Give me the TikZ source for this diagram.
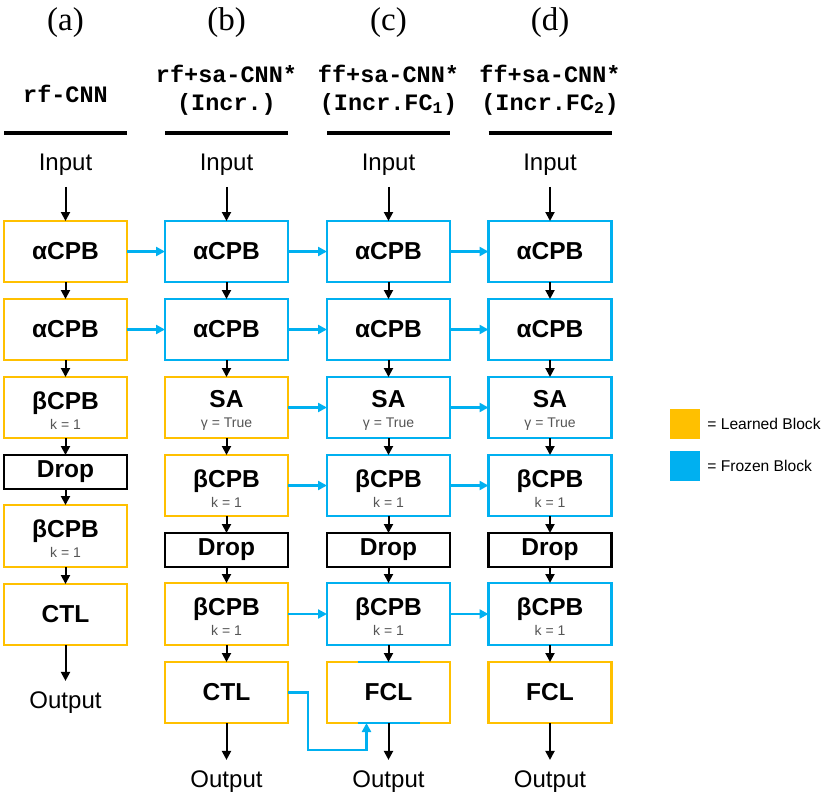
\documentclass[tikz,border=0pt]{standalone}
\usepackage{fontspec}
\setmainfont{Liberation Sans}
\newfontfamily\headserif{Liberation Serif}
\newfontfamily\headmono{Liberation Mono}
\usetikzlibrary{arrows.meta, positioning}
\definecolor{learnorange}{HTML}{FFC000}
\definecolor{frozenblue}{HTML}{00B0F0}
\definecolor{subgray}{HTML}{555555}
\newcommand{\blocktxt}[2]{\rule{0pt}{23pt}#1\\{\fontsize{14}{20}\selectfont\mdseries\color{subgray}#2}}

\begin{document}
\begin{tikzpicture}[x=1pt, y=-1pt,
	blockbox/.style={minimum width=123pt, line width=2.4pt, fill=white, inner sep=0pt, outer sep=0pt, align=center, font=\bfseries\fontsize{24.5}{20}\selectfont},
	learned/.style={blockbox, draw=learnorange, minimum height=61pt},
	frozen/.style={blockbox, draw=frozenblue, minimum height=61pt},
	dropbox/.style={blockbox, draw=black, minimum height=34pt},
	io/.style={font=\fontsize{24}{24}\selectfont, inner sep=11pt},
	headcode/.style={font=\headmono\bfseries\fontsize{23.5}{28}\selectfont, align=center},
	flow/.style={-{Triangle[length=9pt,width=9pt]}, line width=2pt},
	frozenflow/.style={flow, frozenblue, line width=2.4pt},
	keytext/.style={inner sep=2pt, font=\fontsize{15.6}{16}\selectfont}]
	\useasboundingbox (0,0) rectangle (831,798);
	\foreach \x/\c in {65.5/a, 226.5/b, 388.5/c, 550/d} {
		\node[font=\headserif\fontsize{33}{33}\selectfont] (title\c) at (\x,23) {(\c)};
		\node[io] (in\c) at (\x,165) {Input};
		\draw[line width=3.5pt] (\x-61.5,133) -- (\x+61.5,133);
	}
	\node[headcode] (codea) at (65.5,94) {rf-CNN};
	\node[headcode] (codeb) at (226.5,90) {rf+sa-CNN*\\(Incr.)};
	\node[headcode] (codec) at (388.5,90) {ff+sa-CNN*\\(Incr.FC\textsubscript{1})};
	\node[headcode] (coded) at (550,90) {ff+sa-CNN*\\(Incr.FC\textsubscript{2})};

	\node[learned] (a1) at (65.5,251.5) {αCPB};
	\node[learned] (a2) at (65.5,329.5) {αCPB};
	\node[learned] (a3) at (65.5,407.5) {\blocktxt{βCPB}{k = 1}};
	\node[dropbox] (a4) at (65.5,472) {Drop};
	\node[learned, minimum height=62pt] (a5) at (65.5,536) {\blocktxt{βCPB}{k = 1}};
	\node[learned] (a6) at (65.5,614.5) {CTL};
	\node[io] (outa) at (65.5,703) {Output};

	\node[frozen] (b1) at (226.5,251.5) {αCPB};
	\node[frozen] (b2) at (226.5,329.5) {αCPB};
	\node[learned] (b3) at (226.5,407.5) {\blocktxt{SA}{γ = True}};
	\node[learned] (b4) at (226.5,485.5) {\blocktxt{βCPB}{k = 1}};
	\node[dropbox] (b5) at (226.5,550) {Drop};
	\node[learned, minimum height=62pt] (b6) at (226.5,614) {\blocktxt{βCPB}{k = 1}};
	\node[learned] (b7) at (226.5,692.5) {CTL};
	\node[io] (outb) at (226.5,782) {Output};

	\foreach \x/\c in {388.5/c, 550/d} {
		\node[frozen] (\c1) at (\x,251.5) {αCPB};
		\node[frozen] (\c2) at (\x,329.5) {αCPB};
		\node[frozen] (\c3) at (\x,407.5) {\blocktxt{SA}{γ = True}};
		\node[frozen] (\c4) at (\x,485.5) {\blocktxt{βCPB}{k = 1}};
		\node[dropbox] (\c5) at (\x,550) {Drop};
		\node[frozen, minimum height=62pt] (\c6) at (\x,614) {\blocktxt{βCPB}{k = 1}};
		\node[learned] (\c7) at (\x,692.5) {FCL};
		\node[io] (out\c) at (\x,782) {Output};
	}
	\draw[frozenblue, line width=2.4pt] ([xshift=-31pt]c7.north) -- ([xshift=31pt]c7.north)
		([xshift=-31pt]c7.south) -- ([xshift=31pt]c7.south);

	\foreach \c in {a,b,c,d}
		\draw[flow] (in\c) -- (\c1);
	\foreach \i/\j in {1/2,2/3,3/4,4/5,5/6}
		\draw[flow] (a\i) -- (a\j);
	\draw[flow] (a6) -- (outa);
	\foreach \c in {b,c,d} {
		\foreach \i/\j in {1/2,2/3,3/4,4/5,5/6,6/7}
			\draw[flow] (\c\i) -- (\c\j);
		\draw[flow] (\c7) -- (out\c);
	}

	\foreach \i in {1,2}
		\draw[frozenflow] (a\i) -- (b\i);
	\foreach \i in {1,2,3,4,6} {
		\draw[frozenflow] (b\i) -- (c\i);
		\draw[frozenflow] (c\i) -- (d\i);
	}
	\draw[frozenflow] (b7.east) -- ++(20,0) -- ++(0,57.5) -| ([xshift=-22pt]c7.south);

	\node[fill=learnorange, minimum size=30pt, inner sep=0pt] (keylearn) at (685,424) {};
	\node[fill=frozenblue, minimum size=30pt, inner sep=0pt] (keyfrozen) at (685,466) {};
	\node[keytext, right=5pt of keylearn] (txtlearn) {= Learned Block};
	\node[keytext, right=5pt of keyfrozen] (txtfrozen) {= Frozen Block};
\end{tikzpicture}
\end{document}
